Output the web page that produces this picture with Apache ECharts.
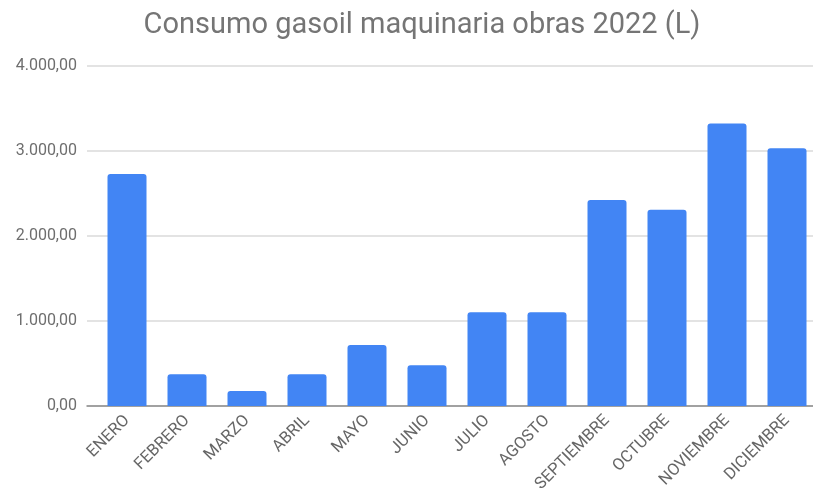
<!DOCTYPE html>
<html>
<head>
<meta charset="utf-8">
<script src="https://cdn.jsdelivr.net/npm/echarts@6/dist/echarts.min.js"></script>
<style>
  html, body { margin: 0; padding: 0; background: #ffffff; }
  #chart { width: 813px; height: 491px; }
</style>
</head>
<body>
<div id="chart"></div>
<script>
// Monthly diesel consumption of site machinery, litres
const meses = ['ENERO', 'FEBRERO', 'MARZO', 'ABRIL', 'MAYO', 'JUNIO', 'JULIO',
  'AGOSTO', 'SEPTIEMBRE', 'OCTUBRE', 'NOVIEMBRE', 'DICIEMBRE'];
const litros = [2730, 373, 176, 373, 718, 478, 1102, 1102, 2424, 2310, 3325, 3031];
const ejeY = { min: 0, max: 4000, interval: 1000 };

// Spanish number format: 4.000,00
function formatoES(v) {
  const [ent, dec] = Number(v).toFixed(2).split('.');
  return ent.replace(/\B(?=(\d{3})+(?!\d))/g, '.') + ',' + dec;
}

const font = 'Roboto, "Noto Sans", sans-serif';
const chart = echarts.init(document.getElementById('chart'));

chart.setOption({
  animation: false,
  backgroundColor: '#ffffff',
  title: {
    text: 'Consumo gasoil maquinaria obras 2022 (L)',
    left: 417,
    textAlign: 'center',
    top: 6,
    textStyle: { fontFamily: font, fontSize: 29, fontWeight: 'normal', color: '#757575' }
  },
  grid: [
    // gridlines and value labels
    { left: 87, right: 0, top: 66, bottom: 85, outerBoundsMode: 'none', containLabel: false },
    // bars and month labels
    { left: 97, width: 720, top: 66, bottom: 85, outerBoundsMode: 'none', containLabel: false }
  ],
  xAxis: [
    {
      gridIndex: 0, type: 'category', data: meses,
      axisLine: { show: true, lineStyle: { color: '#8c8c8c', width: 1.5 } },
      axisTick: { show: false }, axisLabel: { show: false }, splitLine: { show: false }
    },
    {
      gridIndex: 1, type: 'category', data: meses,
      axisLine: { show: false }, axisTick: { show: false },
      axisLabel: {
        rotate: 45, margin: 12, interval: 0,
        fontFamily: font, fontSize: 16.5, color: '#666666'
      }
    }
  ],
  yAxis: [
    {
      gridIndex: 0, type: 'value', min: ejeY.min, max: ejeY.max, interval: ejeY.interval,
      axisLine: { show: false }, axisTick: { show: false },
      axisLabel: { margin: 10, fontFamily: font, fontSize: 16, color: '#6e6e6e', formatter: formatoES },
      splitLine: { lineStyle: { color: '#dadada', width: 1.5 } }
    },
    {
      gridIndex: 1, type: 'value', min: ejeY.min, max: ejeY.max, interval: ejeY.interval,
      show: false, splitLine: { show: false }
    }
  ],
  series: [{
    type: 'bar',
    xAxisIndex: 1, yAxisIndex: 1,
    data: litros,
    barWidth: 39,
    itemStyle: { color: '#4285f4', borderRadius: [3, 3, 0, 0] }
  }]
});
</script>
</body>
</html>
